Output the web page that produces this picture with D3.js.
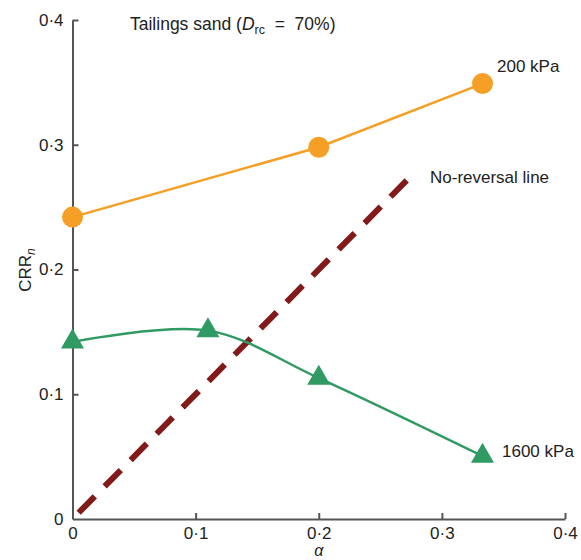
<!DOCTYPE html>
<html>
<head>
<meta charset="utf-8">
<script src="https://cdn.jsdelivr.net/npm/d3@7"></script>
<style>
  body { margin: 0; background: #fff; }
  svg text { font-family: "Liberation Sans", Arial, sans-serif; fill: #222; }
</style>
</head>
<body>
<svg id="chart" width="581" height="560"></svg>
<script>
// Cyclic resistance ratio vs static shear ratio alpha
const alphaLow = [0, 0.2, 0.333];
const crrLow = [0.242, 0.298, 0.349];          // 200 kPa
const alphaHigh = [0, 0.11, 0.2, 0.333];
const crrHigh = [0.142, 0.151, 0.113, 0.0505];  // 1600 kPa
const noReversal = [[0.005, 0.005], [0.274, 0.274]];
const xTicks = [0, 0.1, 0.2, 0.3, 0.4];
const yTicks = [0, 0.1, 0.2, 0.3, 0.4];
const tickText = ["0", "0·1", "0·2", "0·3", "0·4"];

const svg = d3.select("#chart");
const x = d3.scaleLinear().domain([0, 0.4]).range([72.5, 565]);
const y = d3.scaleLinear().domain([0, 0.4]).range([519, 20]);

const axisColor = "#555";
const fs = 17;
const fmt = d => tickText[xTicks.indexOf(d)];

// axes with inward ticks
const gx = svg.append("g").attr("transform", `translate(0,${y(0)})`)
  .call(d3.axisBottom(x).tickValues(xTicks).tickSizeInner(-6).tickSizeOuter(0).tickPadding(8).tickFormat(fmt));
const gy = svg.append("g").attr("transform", `translate(${x(0)},0)`)
  .call(d3.axisLeft(y).tickValues(yTicks).tickSizeInner(-6).tickSizeOuter(0).tickPadding(9).tickFormat(fmt));
[gx, gy].forEach(g => {
  g.select(".domain").attr("stroke", axisColor).attr("stroke-width", 2);
  g.selectAll(".tick line").attr("stroke", axisColor).attr("stroke-width", 2);
  g.selectAll(".tick text").attr("font-size", fs).attr("fill", "#222")
    .attr("font-family", "Liberation Sans, Arial, sans-serif");
});
gx.selectAll(".tick text").attr("dy", "0.71em");
gy.selectAll(".tick").filter(d => d === 0).select("line").remove();
gx.selectAll(".tick").filter(d => d === 0).select("line").remove();

// no-reversal line
svg.append("path")
  .attr("d", d3.line().x(d => x(d[0])).y(d => y(d[1]))(noReversal))
  .attr("stroke", "#821a1a").attr("stroke-width", 6).attr("fill", "none")
  .attr("stroke-dasharray", "23,14");

// 200 kPa series
const low = alphaLow.map((a, i) => [a, crrLow[i]]);
svg.append("path")
  .attr("d", d3.line().x(d => x(d[0])).y(d => y(d[1]))(low))
  .attr("stroke", "#f59f26").attr("stroke-width", 2.5).attr("fill", "none");
svg.selectAll(".lowPt").data(low).enter().append("circle")
  .attr("cx", d => x(d[0])).attr("cy", d => y(d[1])).attr("r", 10.5)
  .attr("fill", "#f59f26");

// 1600 kPa series
const high = alphaHigh.map((a, i) => [a, crrHigh[i]]);
svg.append("path")
  .attr("d", d3.line().curve(d3.curveCatmullRom.alpha(0.5)).x(d => x(d[0])).y(d => y(d[1]))(high))
  .attr("stroke", "#2f9a62").attr("stroke-width", 2.5).attr("fill", "none");
svg.selectAll(".highPt").data(high).enter().append("path")
  .attr("transform", d => `translate(${x(d[0])},${y(d[1])})`)
  .attr("d", d3.symbol().type(d3.symbolTriangle).size(230))
  .attr("fill", "#2f9a62");

// annotations
svg.append("text").attr("x", 130).attr("y", 30).attr("font-size", 17.5)
  .style("white-space", "pre")
  .html('Tailings sand (<tspan font-style="italic">D</tspan><tspan font-size="12.5" dy="4">rc</tspan><tspan dy="-4">  =  70%)</tspan>');
svg.append("text").attr("x", 497).attr("y", 72).attr("font-size", fs).text("200 kPa");
svg.append("text").attr("x", 430).attr("y", 183).attr("font-size", fs).text("No-reversal line");
svg.append("text").attr("x", 502).attr("y", 457).attr("font-size", fs).text("1600 kPa");

// axis titles
svg.append("text").attr("transform", "translate(31,270) rotate(-90)")
  .attr("text-anchor", "middle").attr("font-size", fs)
  .html('CRR<tspan font-size="12" font-style="italic" dy="4">n</tspan>');
svg.append("text").attr("x", x(0.2)).attr("y", 556).attr("text-anchor", "middle")
  .attr("font-size", 16).attr("font-style", "italic")
  .attr("font-family", "Liberation Serif, serif").text("α");
</script>
</body>
</html>
